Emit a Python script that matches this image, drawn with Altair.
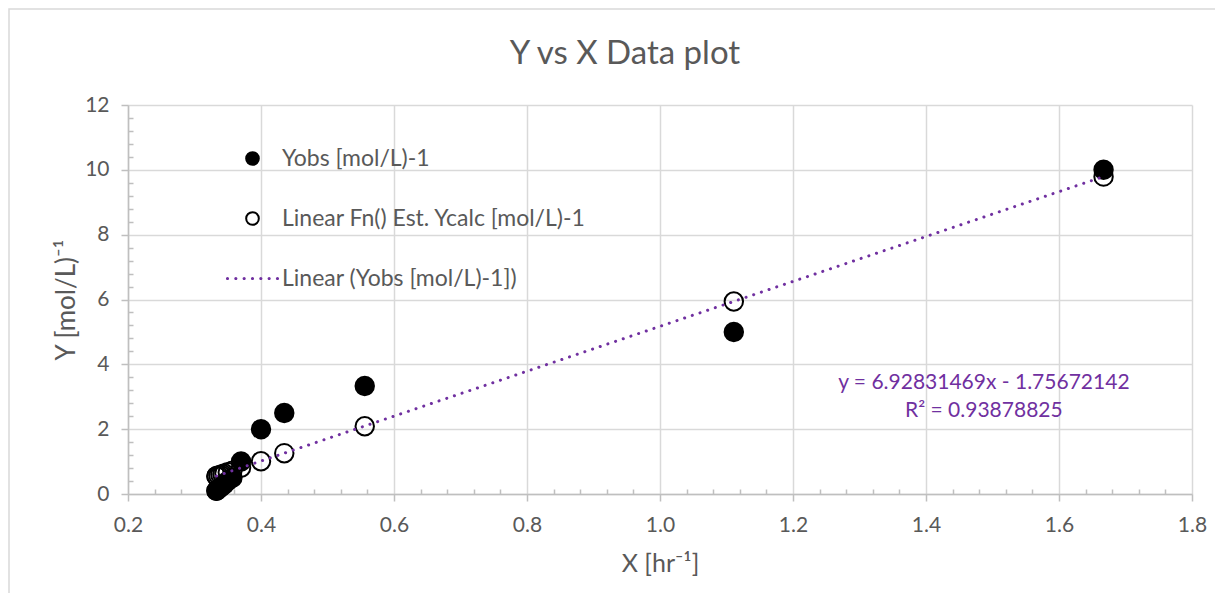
import altair as alt
import pandas as pd

# ---- data ----
x_hr = [0.333, 0.333, 0.336, 0.339, 0.342, 0.345, 0.350, 0.357, 0.370, 0.400, 0.435, 0.556, 1.111, 1.667]
y_obs = [0.10, 0.10, 0.15, 0.20, 0.25, 0.30, 0.40, 0.50, 1.00, 2.00, 2.50, 3.33, 5.00, 10.00]
y_calc = [0.55, 0.55, 0.57, 0.59, 0.61, 0.63, 0.67, 0.72, 0.81, 1.01, 1.26, 2.09, 5.94, 9.79]

series_names = ["Yobs [mol/L)-1", "Linear Fn() Est. Ycalc [mol/L)-1", "Linear (Yobs [mol/L)-1])"]
x_ticks = [0.2, 0.4, 0.6, 0.8, 1.0, 1.2, 1.4, 1.6, 1.8]
y_ticks = [0, 2, 4, 6, 8, 10, 12]
x_minor = [round(0.2 + 0.04 * i, 2) for i in range(41) if i % 5 != 0]
y_minor = [round(0.4 * i, 1) for i in range(31) if i % 5 != 0]
eq_lines = ["y = 6.92831469x - 1.75672142", "R² = 0.93878825"]
title_text = "Y vs X Data plot"
x_title = "X [hr⁻¹]"
y_title = "Y [mol/L)⁻¹"

FONT = "Lato"
GREY = "#595959"
PURPLE = "#7030a0"

obs_df = pd.DataFrame({"x": x_hr, "y": y_obs, "series": series_names[0]})
calc_df = pd.DataFrame({"x": x_hr, "y": y_calc, "series": series_names[1]})
pts_df = pd.concat([obs_df, calc_df], ignore_index=True)

xscale = alt.Scale(domain=[0.2, 1.8], nice=False, zero=False)
yscale = alt.Scale(domain=[0, 12], nice=False)

# dotted-line legend symbol (7 round dots)
unit = (160 ** 0.5) / 2
r = 1.6 / unit
parts = []
for k in range(-3, 4):
    cx = k * 8.33 / unit
    parts.append(f"M{cx - r:.3f},0a{r:.3f},{r:.3f} 0 1,0 {2 * r:.3f},0a{r:.3f},{r:.3f} 0 1,0 {-2 * r:.3f},0Z")
dotted_path = " ".join(parts)

legend = alt.Legend(
    title=None, orient="none", legendX=113, legendY=42, padding=0,
    symbolSize=160, symbolStrokeWidth=2, labelOffset=18, rowPadding=36,
    labelFont=FONT, labelFontSize=23, labelColor=GREY, symbolOpacity=1,
    labelLimit=0,
)

points = alt.Chart(pts_df).mark_point(size=340, strokeWidth=2, opacity=1).encode(
    x=alt.X("x:Q", scale=xscale, axis=alt.Axis(
        values=x_ticks, format=".1f", title=x_title, grid=True, tickSize=7,
        labelPadding=13, titlePadding=16, orient="bottom", labelFlush=False,
        titleFontSize=25)),
    y=alt.Y("y:Q", scale=yscale, axis=alt.Axis(
        values=y_ticks, format="d", title=y_title, grid=True, tickSize=7,
        labelPadding=12, titlePadding=5, orient="left", labelFlush=False,
        titleFontSize=26)),
    fill=alt.Fill("series:N", scale=alt.Scale(domain=series_names, range=["black", "transparent", PURPLE]), legend=legend),
    stroke=alt.Stroke("series:N", scale=alt.Scale(domain=series_names, range=["black", "black", "transparent"]), legend=legend),
    shape=alt.Shape("series:N", scale=alt.Scale(domain=series_names, range=["circle", "circle", dotted_path]), legend=legend),
)

minor = alt.Chart(obs_df).mark_point(opacity=0).encode(
    x=alt.X("x:Q", scale=xscale, axis=alt.Axis(
        values=x_minor, labels=False, domain=False, grid=False, tickSize=5,
        offset=-5, title="", orient="bottom")),
    y=alt.Y("y:Q", scale=yscale, axis=alt.Axis(
        values=y_minor, labels=False, domain=False, grid=False, tickSize=5,
        offset=-5, title="", orient="left")),
)

trend = alt.Chart(obs_df).transform_regression("x", "y").mark_line(
    color=PURPLE, strokeWidth=3, strokeDash=[0.1, 8.0], strokeCap="round"
).encode(
    x=alt.X("x:Q", scale=xscale, axis=None),
    y=alt.Y("y:Q", scale=yscale, axis=None),
)

eq_text = alt.Chart(pd.DataFrame({"a": [0]})).mark_text(
    text=eq_lines, font=FONT, fontSize=21, color=PURPLE, align="center",
    baseline="middle", lineHeight=28
).encode(
    x=alt.X(datum=1.487, scale=xscale, axis=None),
    y=alt.Y(datum=3.42, scale=yscale, axis=None),
)

title = alt.Chart(pd.DataFrame({"a": [0]})).mark_text(
    text=title_text, font=FONT, fontSize=33, color=GREY, align="center",
    baseline="middle"
).encode(x=alt.value(497), y=alt.value(-51))

frame = alt.Chart(pd.DataFrame({"a": [0]})).mark_rect(
    filled=False, stroke="#d9d9d9", strokeWidth=1.5
).encode(
    x=alt.value(-119), x2=alt.value(1120), y=alt.value(-96), y2=alt.value(520)
)

chart = alt.layer(frame, title, points, minor, trend, eq_text).resolve_axis(
    x="independent", y="independent"
).properties(
    width=1064, height=389,
    autosize=alt.AutoSizeParams(type="none"),
    padding={"left": 120, "top": 97, "right": 23, "bottom": 99},
).configure_axis(
    labelFont=FONT, titleFont=FONT, labelFontSize=21, titleFontSize=25,
    labelColor=GREY, titleColor=GREY, titleFontWeight="normal",
    gridColor="#d9d9d9", gridWidth=1.5, domainColor="#bfbfbf", tickColor="#bfbfbf",
    domainWidth=1.5, tickWidth=1.5,
).configure_view(strokeWidth=0)

chart.save("out.html", embed_options={"renderer": "svg", "actions": False})
